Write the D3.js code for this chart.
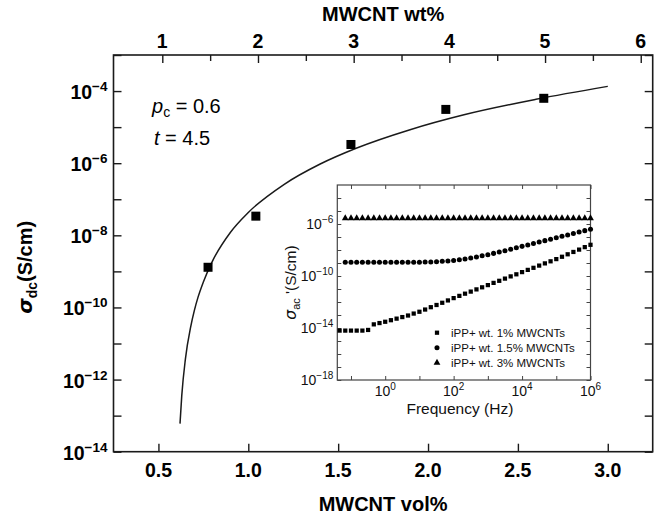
<!DOCTYPE html>
<html>
<head>
<meta charset="utf-8">
<script src="https://cdn.jsdelivr.net/npm/d3@7"></script>
<style>
  body { margin: 0; background: #fff; }
  svg { font-family: "Liberation Sans", Arial, Helvetica, sans-serif; }
</style>
</head>
<body>
<div id="chart"></div>
<script>
// ---- main plot: dc conductivity vs MWCNT content ----
const volTicks = [0.5, 1.0, 1.5, 2.0, 2.5, 3.0];
const wtTicks = [1, 2, 3, 4, 5, 6];
const wtMinor = [1.5, 2.5, 3.5, 4.5, 5.5];
const dcLabelExp = [-14, -12, -10, -8, -6, -4];
const dcMinorExp = [-13, -11, -9, -7, -5, -3];

// measured samples (1.5, 2, 3, 4, 5 wt%)
const pointVol = [0.776, 1.042, 1.571, 2.099, 2.644];
const pointSigma = [1.3e-9, 3.4e-8, 3.3e-6, 3.1e-5, 6.3e-5];

// percolation fit line (pc = 0.6, t = 4.5)
const fitVol = [0.62, 0.63, 0.65, 0.68, 0.70, 0.72, 0.75, 0.80, 0.90, 1.0, 1.2, 1.4, 1.6, 1.9, 2.2, 2.6, 3.0];
const fitSigma = [6.0e-14, 3.7e-13, 3.7e-12, 3.0e-11, 8.3e-11, 1.9e-10, 5.1e-10, 1.9e-9, 1.2e-8, 4.3e-8,
                  2.6e-7, 9.5e-7, 2.6e-6, 8.5e-6, 2.2e-5, 5.9e-5, 1.35e-4];

// ---- inset: ac conductivity vs frequency (log10 values) ----
const freqExp = [-1.333, -1.167, -1.0, -0.833, -0.667, -0.5, -0.333, -0.167, 0, 0.167, 0.333, 0.5, 0.667, 0.833,
                 1.0, 1.167, 1.333, 1.5, 1.667, 1.833, 2.0, 2.167, 2.333, 2.5, 2.667, 2.833, 3.0, 3.167, 3.333,
                 3.5, 3.667, 3.833, 4.0, 4.167, 4.333, 4.5, 4.667, 4.833, 5.0, 5.167, 5.333, 5.5, 5.667, 5.833, 6.0];
const acWt1 = [-14.2, -14.2, -14.2, -14.2, -14.2, -14.15, -13.72, -13.62, -13.52, -13.4, -13.28, -13.16, -13.04, -12.89,
               -12.75, -12.58, -12.4, -12.23, -12.06, -11.88, -11.7, -11.53, -11.36, -11.2, -11.03, -10.87, -10.7, -10.53, -10.37,
               -10.2, -10.03, -9.87, -9.7, -9.53, -9.37, -9.2, -9.03, -8.87, -8.7, -8.52, -8.33, -8.15, -7.97, -7.78, -7.6];
const acWt15 = [null, -8.95, -8.95, -8.95, -8.95, -8.95, -8.95, -8.95, -8.95, -8.95, -8.95, -8.95, -8.95, -8.95,
                -8.94, -8.93, -8.92, -8.9, -8.87, -8.84, -8.8, -8.75, -8.69, -8.62, -8.54, -8.45, -8.36, -8.26, -8.15,
                -8.05, -7.94, -7.83, -7.72, -7.61, -7.5, -7.39, -7.28, -7.17, -7.06, -6.95, -6.84, -6.73, -6.62, -6.51, -6.4];
const acWt3 = [null, -5.56, -5.56, -5.56, -5.56, -5.56, -5.56, -5.56, -5.56, -5.56, -5.56, -5.56, -5.56, -5.56,
               -5.56, -5.56, -5.56, -5.56, -5.56, -5.56, -5.56, -5.56, -5.56, -5.56, -5.56, -5.56, -5.56, -5.56, -5.56,
               -5.56, -5.56, -5.56, -5.56, -5.56, -5.56, -5.56, -5.56, -5.56, -5.56, -5.56, -5.56, -5.56, -5.56, -5.56, -5.56];
const legendLabels = ["iPP+ wt. 1% MWCNTs", "iPP+ wt. 1.5% MWCNTs", "iPP+ wt. 3% MWCNTs"];
const insetXLabelExp = [0, 2, 4, 6];
const insetYLabelExp = [-6, -10, -14, -18];

(function () {
  var width = 671, height = 520;
  var svg = d3.select("#chart").append("svg")
    .attr("width", width).attr("height", height);

  // plot frame
  var L = 113.5, R = 652.7, T = 55, B = 451.7;

  var x = d3.scaleLinear().domain([0.25, 3.25]).range([L, R]);
  var xTop = d3.scaleLinear().domain([0.49, 6.125]).range([L, R]);
  var y = d3.scaleLog().domain([1e-14, 1e-3]).range([B, T]);

  var ink = "#1a1a1a";

  // ticks, pointing inward
  svg.append("g").attr("transform", "translate(0," + B + ")")
    .call(d3.axisBottom(x).tickValues(volTicks).tickSizeInner(-8).tickSizeOuter(0).tickFormat(""));
  svg.append("g").attr("transform", "translate(0," + T + ")")
    .call(d3.axisTop(xTop).tickValues(wtTicks).tickSizeInner(-8).tickSizeOuter(0).tickFormat(""));
  svg.append("g").attr("transform", "translate(0," + T + ")")
    .call(d3.axisTop(xTop).tickValues(wtMinor).tickSizeInner(-6).tickSizeOuter(0).tickFormat(""));
  var yTickVals = dcLabelExp.concat(dcMinorExp).map(e => Math.pow(10, e));
  svg.append("g").attr("transform", "translate(" + L + ",0)")
    .call(d3.axisLeft(y).tickValues(yTickVals).tickSizeInner(-8).tickSizeOuter(0).tickFormat(""));
  svg.append("g").attr("transform", "translate(" + R + ",0)")
    .call(d3.axisRight(y).tickValues(yTickVals).tickSizeInner(-8).tickSizeOuter(0).tickFormat(""));
  svg.selectAll(".domain").remove();
  svg.selectAll(".tick line").attr("stroke", ink).attr("stroke-width", 1.4);

  svg.append("rect")
    .attr("x", L).attr("y", T).attr("width", R - L).attr("height", B - T)
    .attr("fill", "none").attr("stroke", ink).attr("stroke-width", 1.6);

  // tick labels
  svg.append("g").selectAll("text").data(volTicks).enter().append("text")
    .attr("x", d => x(d)).attr("y", B + 25.5)
    .attr("text-anchor", "middle").attr("font-size", 19.5).attr("font-weight", "bold")
    .text(d => d.toFixed(1));

  svg.append("g").selectAll("text").data(wtTicks).enter().append("text")
    .attr("x", d => xTop(d)).attr("y", T - 7)
    .attr("text-anchor", "middle").attr("font-size", 19.5).attr("font-weight", "bold")
    .text(d => d);

  var yl = svg.append("g").selectAll("text").data(dcLabelExp).enter().append("text")
    .attr("x", L - 6).attr("y", d => y(Math.pow(10, d)) + 8)
    .attr("text-anchor", "end").attr("font-weight", "bold");
  yl.append("tspan").attr("font-size", 19.5).text("10");
  yl.append("tspan").attr("font-size", 13.5).attr("dy", -8).text(d => "\u2212" + (-d));

  // axis titles
  svg.append("text").attr("x", (L + R) / 2).attr("y", 21)
    .attr("text-anchor", "middle").attr("font-size", 20).attr("font-weight", "bold")
    .text("MWCNT wt%");
  svg.append("text").attr("x", (L + R) / 2).attr("y", 511)
    .attr("text-anchor", "middle").attr("font-size", 20).attr("font-weight", "bold")
    .text("MWCNT vol%");
  var yt = svg.append("text")
    .attr("transform", "translate(32," + ((T + B) / 2 + 14) + ") rotate(-90)")
    .attr("text-anchor", "middle").attr("font-weight", "bold").attr("font-size", 20);
  yt.append("tspan").attr("font-family", "DejaVu Sans").attr("font-style", "italic").text("\u03c3");
  yt.append("tspan").attr("font-size", 14).attr("dy", 5).text("dc");
  yt.append("tspan").attr("dy", -5).text("(S/cm)");

  // fit parameters
  var p1 = svg.append("text").attr("x", 152).attr("y", 113).attr("font-size", 20);
  p1.append("tspan").attr("font-style", "italic").text("p");
  p1.append("tspan").attr("font-size", 14).attr("dy", 4).text("c");
  p1.append("tspan").attr("dy", -4).text(" = 0.6");
  var p2 = svg.append("text").attr("x", 154).attr("y", 145).attr("font-size", 20);
  p2.append("tspan").attr("font-style", "italic").text("t");
  p2.append("tspan").text(" = 4.5");

  // fit curve
  var fit = fitVol.map((v, i) => [v, fitSigma[i]]);
  svg.append("path").datum(fit)
    .attr("fill", "none").attr("stroke", ink).attr("stroke-width", 1.5)
    .attr("d", d3.line().x(d => x(d[0])).y(d => y(d[1])).curve(d3.curveMonotoneX));

  // measured points
  var pts = pointVol.map((v, i) => [v, pointSigma[i]]);
  svg.append("g").selectAll("rect").data(pts).enter().append("rect")
    .attr("x", d => x(d[0]) - 4.5).attr("y", d => y(d[1]) - 4.5)
    .attr("width", 9).attr("height", 9).attr("fill", "#000");

  // ---- inset ----
  var iL = 337.3, iR = 590.5, iT = 185, iB = 380;
  var ix = d3.scaleLog().domain([Math.pow(10, -1.4), 1e6]).range([iL, iR]);
  var iy = d3.scaleLog().domain([1e-18, 1e-3]).range([iB, iT]);
  var gray = "#444";

  svg.append("rect").attr("x", iL).attr("y", iT).attr("width", iR - iL).attr("height", iB - iT)
    .attr("fill", "#fff");

  var ixTicks = d3.range(-1, 7).map(e => Math.pow(10, e));
  var iyTicks = d3.range(-18, -3).map(e => Math.pow(10, e));
  var inset = svg.append("g").attr("class", "inset");
  inset.append("g").attr("transform", "translate(0," + iB + ")")
    .call(d3.axisBottom(ix).tickValues(ixTicks).tickSizeInner(-4).tickSizeOuter(0).tickFormat(""));
  inset.append("g").attr("transform", "translate(0," + iT + ")")
    .call(d3.axisTop(ix).tickValues(ixTicks).tickSizeInner(-4).tickSizeOuter(0).tickFormat(""));
  inset.append("g").attr("transform", "translate(" + iL + ",0)")
    .call(d3.axisLeft(iy).tickValues(iyTicks).tickSizeInner(-4).tickSizeOuter(0).tickFormat(""));
  inset.append("g").attr("transform", "translate(" + iR + ",0)")
    .call(d3.axisRight(iy).tickValues(iyTicks).tickSizeInner(-4).tickSizeOuter(0).tickFormat(""));
  inset.selectAll(".domain").remove();
  inset.selectAll(".tick line").attr("stroke", gray).attr("stroke-width", 1);
  inset.append("rect").attr("x", iL).attr("y", iT).attr("width", iR - iL).attr("height", iB - iT)
    .attr("fill", "none").attr("stroke", gray).attr("stroke-width", 1.2);

  var ixl = inset.append("g").selectAll("text").data(insetXLabelExp).enter().append("text")
    .attr("x", d => ix(Math.pow(10, d))).attr("y", iB + 16)
    .attr("text-anchor", "middle").attr("fill", "#111");
  ixl.append("tspan").attr("font-size", 14).text("10");
  ixl.append("tspan").attr("font-size", 10).attr("dy", -6).text(d => d);

  var iyl = inset.append("g").selectAll("text").data(insetYLabelExp).enter().append("text")
    .attr("x", iL - 4).attr("y", d => iy(Math.pow(10, d)) + 5)
    .attr("text-anchor", "end").attr("fill", "#111");
  iyl.append("tspan").attr("font-size", 14).text("10");
  iyl.append("tspan").attr("font-size", 10).attr("dy", -6).text(d => "\u2212" + (-d));

  inset.append("text").attr("x", (iL + iR) / 2 - 4).attr("y", iB + 34)
    .attr("text-anchor", "middle").attr("font-size", 15.5).attr("fill", "#111")
    .text("Frequency (Hz)");
  var iyt = inset.append("text")
    .attr("transform", "translate(296," + ((iT + iB) / 2) + ") rotate(-90)")
    .attr("text-anchor", "middle").attr("font-size", 15.5).attr("fill", "#111");
  iyt.append("tspan").attr("font-family", "DejaVu Sans").attr("font-style", "italic").text("\u03c3");
  iyt.append("tspan").attr("font-size", 11).attr("dy", 4).text("ac");
  iyt.append("tspan").attr("dy", -4).text(" '(S/cm)");

  // inset markers
  var sym = [d3.symbolSquare, d3.symbolCircle, d3.symbolTriangle];
  var symSize = [18, 20, 20];
  var series = [acWt1, acWt15, acWt3];
  series.forEach((s, k) => {
    var pts = freqExp.map((f, i) => [f, s[i]]).filter(d => d[1] !== null);
    inset.append("g").selectAll("path").data(pts).enter().append("path")
      .attr("d", d3.symbol().type(sym[k]).size(symSize[k]))
      .attr("transform", d => "translate(" + ix(Math.pow(10, d[0])) + "," + iy(Math.pow(10, d[1])) + ")")
      .attr("fill", "#000");
  });

  // legend
  var lg = inset.append("g").selectAll("g").data(legendLabels).enter().append("g")
    .attr("transform", (d, i) => "translate(437," + (332.7 + i * 15) + ")");
  lg.append("path")
    .attr("d", (d, i) => d3.symbol().type(sym[i]).size(symSize[i])())
    .attr("fill", "#000");
  lg.append("text").attr("x", 14).attr("y", 4.5).attr("font-size", 11.5).attr("fill", "#111")
    .text(d => d);
})();
</script>
</body>
</html>
